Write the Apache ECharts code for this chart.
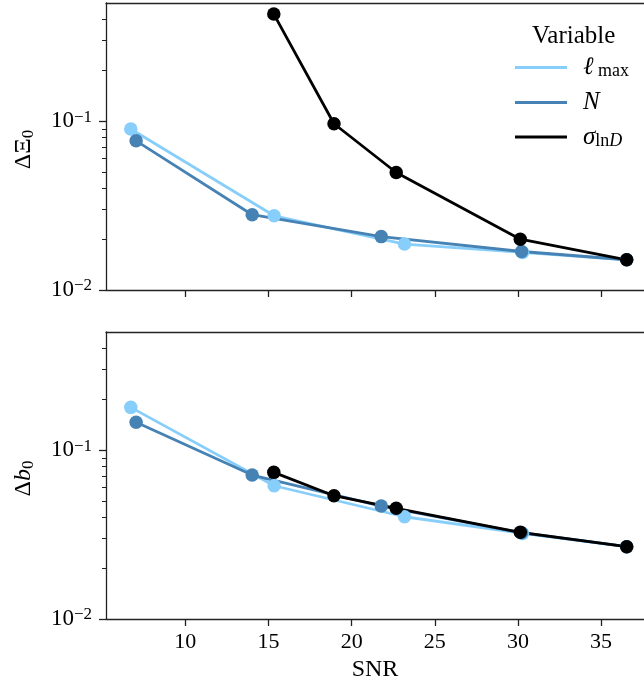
<!DOCTYPE html>
<html>
<head>
<meta charset="utf-8">
<script src="https://cdn.jsdelivr.net/npm/echarts@6/dist/echarts.min.js"></script>
<style>
html,body{margin:0;padding:0;background:#fff;}
#chart{width:644px;height:685px;}
</style>
</head>
<body>
<div id="chart"></div>
<script>
// ---- data ----
const seriesNames = ['lmax', 'N', 'sigma'];
const snrLmax  = [6.72, 15.34, 23.18, 30.28, 36.54];
const snrN     = [7.04, 14.02, 21.78, 30.22, 36.54];
const snrSigma = [15.32, 18.94, 22.68, 30.14, 36.54];

const dXiLmax  = [0.0897, 0.0275, 0.0187, 0.0167, 0.0151];
const dXiN     = [0.0764, 0.0279, 0.0207, 0.0169, 0.0151];
const dXiSigma = [0.430, 0.0964, 0.0496, 0.0200, 0.0151];

const dbLmax   = [0.179, 0.0615, 0.0403, 0.0321, 0.0268];
const dbN      = [0.146, 0.0711, 0.0466, 0.0324, 0.0268];
const dbSigma  = [0.0738, 0.0537, 0.0452, 0.0326, 0.0268];

const xTicks = [10, 15, 20, 25, 30, 35];
const yMajorTicks = [0.01, 0.1];
const yMinorTicks = [0.02, 0.03, 0.04, 0.05, 0.06, 0.07, 0.08, 0.09, 0.2, 0.3, 0.4];
const yExponentLabels = ['−2', '−1'];

// ---- styling ----
const FONT = '"Liberation Serif", "Times New Roman", serif';
const colors = {lmax: '#87CEFA', N: '#4682B4', sigma: '#000000'};
const X_MIN = 5.23, X_MAX = 37.58, Y_MIN = 0.01, Y_MAX = 0.5;
const SPINE = {color: '#222', width: 1.3};

function pairs(xs, ys) { return xs.map((x, i) => [x, ys[i]]); }

const chart = echarts.init(document.getElementById('chart'), null, {renderer: 'canvas'});

const grids = [
  {left: 106, right: 0, top: 3, height: 287},
  {left: 106, right: 0, top: 332, height: 287}
];

function xAxis(gi, showLabels) {
  return {
    type: 'value', gridIndex: gi, min: X_MIN, max: X_MAX,
    splitLine: {show: false},
    axisLine: {show: true, onZero: false, lineStyle: SPINE},
    axisTick: {show: true, length: 7, customValues: xTicks, lineStyle: SPINE},
    axisLabel: {show: showLabels, customValues: xTicks, margin: 12, color: '#000', fontFamily: FONT, fontSize: 22},
    name: showLabels ? 'SNR' : '', nameLocation: 'middle', nameGap: 39,
    nameTextStyle: {color: '#000', fontFamily: FONT, fontSize: 24}
  };
}
function xAxisTop(gi) {
  return {
    type: 'value', gridIndex: gi, min: X_MIN, max: X_MAX, position: 'top',
    splitLine: {show: false},
    axisLine: {show: true, onZero: false, lineStyle: SPINE},
    axisTick: {show: false}, axisLabel: {show: false}
  };
}

const labelRich = {
  b: {fontFamily: FONT, fontSize: 23, color: '#000', lineHeight: 25},
  s: {fontFamily: FONT, fontSize: 17, color: '#000', lineHeight: 18, verticalAlign: 'top'}
};

function yAxisMajor(gi, nameRich) {
  return {
    type: 'log', logBase: 10, gridIndex: gi, min: Y_MIN, max: Y_MAX,
    splitLine: {show: false}, minorSplitLine: {show: false},
    axisLine: {show: true, lineStyle: SPINE},
    axisTick: {show: true, length: 7, customValues: yMajorTicks, lineStyle: SPINE},
    axisLabel: {
      show: true, customValues: yMajorTicks, margin: 14,
      formatter: v => '{b|10}{s|' + yExponentLabels[yMajorTicks.indexOf(v) >= 0 ? yMajorTicks.indexOf(v) : (v < 0.05 ? 0 : 1)] + '}',
      rich: labelRich
    },
    name: nameRich, nameLocation: 'middle', nameGap: 69, nameRotate: 90,
    nameTextStyle: {
      padding: [0, 6, 0, 0],
      rich: {
        r: {fontFamily: FONT, fontSize: 24, color: '#000', lineHeight: 26},
        i: {fontFamily: FONT, fontSize: 24, fontStyle: 'italic', color: '#000', lineHeight: 26},
        sub: {fontFamily: FONT, fontSize: 17, color: '#000', lineHeight: 10, verticalAlign: 'bottom'}
      }
    }
  };
}
function yAxisMinor(gi) {
  return {
    type: 'log', logBase: 10, gridIndex: gi, min: Y_MIN, max: Y_MAX, position: 'left',
    splitLine: {show: false},
    axisLine: {show: false},
    axisTick: {show: true, length: 4, customValues: yMinorTicks, lineStyle: {color: '#222', width: 1}},
    axisLabel: {show: false}
  };
}

function lineSeries(name, xi, yi, data) {
  return {
    name: name, type: 'line', xAxisIndex: xi, yAxisIndex: yi, data: data,
    symbol: 'circle', symbolSize: 13.5, showSymbol: true,
    lineStyle: {color: colors[name], width: 2.8},
    itemStyle: {color: colors[name]},
    emphasis: {disabled: true}, animation: false, z: 2
  };
}

const legendRich = {
  i: {fontFamily: FONT, fontSize: 25, fontStyle: 'italic', color: '#000', lineHeight: 26},
  r: {fontFamily: FONT, fontSize: 25, color: '#000', lineHeight: 26},
  sub: {fontFamily: FONT, fontSize: 18, color: '#000', lineHeight: 10, verticalAlign: 'bottom'},
  subi: {fontFamily: FONT, fontSize: 18, fontStyle: 'italic', color: '#000', lineHeight: 10, verticalAlign: 'bottom'}
};
const legendLabels = {
  lmax: '{i|ℓ}{sub| max}',
  N: '{i|N}',
  sigma: '{i|σ}{sub|ln}{subi|D}'
};

const option = {
  backgroundColor: '#fff',
  animation: false,
  title: {
    text: 'Variable', left: 527, top: 19,
    textStyle: {fontFamily: FONT, fontSize: 25, fontWeight: 'normal', color: '#000'}
  },
  legend: {
    orient: 'vertical', left: 515, top: 55, padding: 0,
    data: seriesNames,
    icon: 'rect', itemWidth: 52, itemHeight: 3, itemGap: 9.5,
    formatter: n => legendLabels[n],
    textStyle: {rich: legendRich, padding: [0, 0, 0, 11]},
    selectedMode: false
  },
  grid: grids,
  xAxis: [xAxis(0, false), xAxis(1, true), xAxisTop(0), xAxisTop(1)],
  yAxis: [
    yAxisMajor(0, '{r|ΔΞ}{sub|0}'),
    yAxisMajor(1, '{r|Δ}{i|b}{sub|0}'),
    yAxisMinor(0),
    yAxisMinor(1)
  ],
  series: [
    lineSeries('lmax', 0, 0, pairs(snrLmax, dXiLmax)),
    lineSeries('N', 0, 0, pairs(snrN, dXiN)),
    lineSeries('sigma', 0, 0, pairs(snrSigma, dXiSigma)),
    lineSeries('lmax', 1, 1, pairs(snrLmax, dbLmax)),
    lineSeries('N', 1, 1, pairs(snrN, dbN)),
    lineSeries('sigma', 1, 1, pairs(snrSigma, dbSigma))
  ]
};
chart.setOption(option);
</script>
</body>
</html>
